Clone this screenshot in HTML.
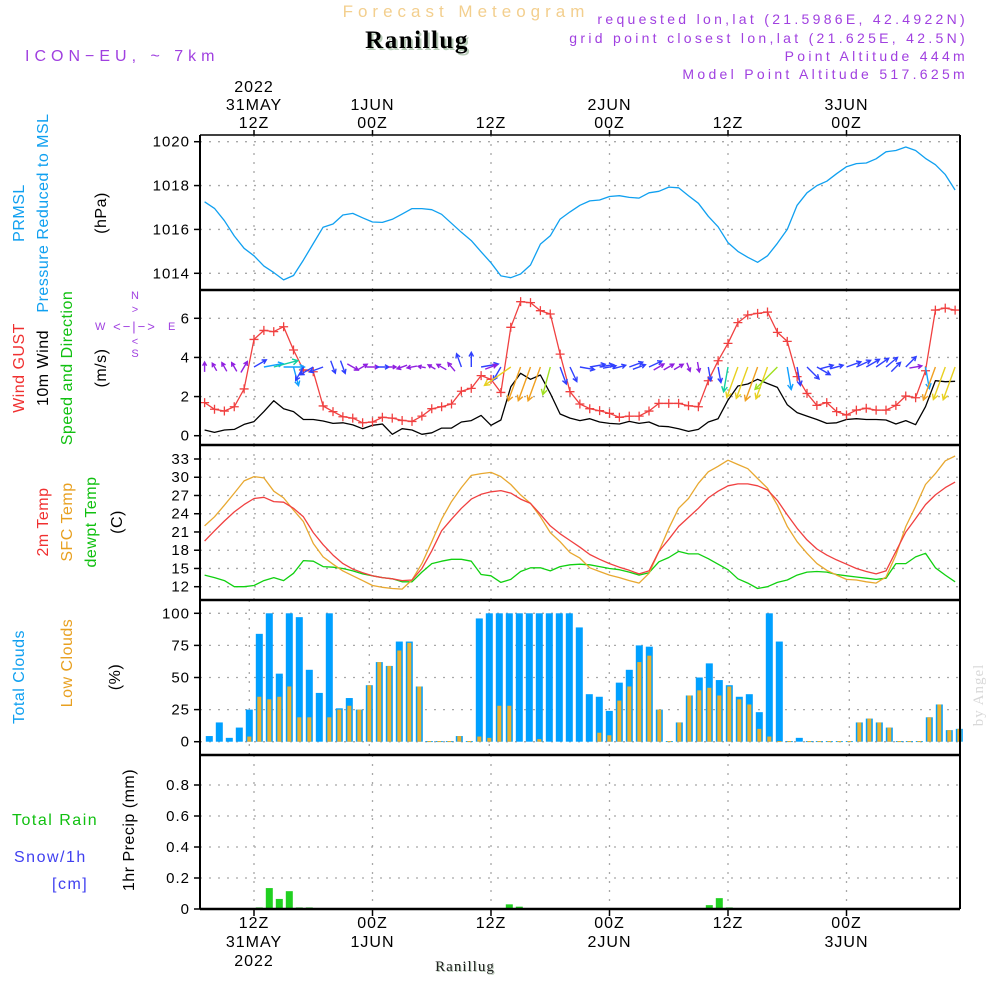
<!DOCTYPE html>
<html><head><meta charset="utf-8"><title>Forecast Meteogram Ranillug</title>
<style>
html,body{margin:0;padding:0;background:#fff;}
#wrap{position:relative;width:1000px;height:1000px;overflow:hidden;font-family:"Liberation Sans",sans-serif;}
svg{position:absolute;left:0;top:0;}
text{font-family:"Liberation Sans",sans-serif;}
text.serif{font-family:"Liberation Serif",serif;}
</style></head>
<body>
<div id="wrap">
<svg id="chart" width="1000" height="1000" viewBox="0 0 1000 1000">
  <text x="466" y="17" text-anchor="middle" font-size="17" fill="#f3cf8e" letter-spacing="5">Forecast Meteogram</text>
  <text class="serif" x="419" y="50" text-anchor="middle" font-size="25" font-weight="bold" fill="#b8ccb8" letter-spacing="1.5">Ranillug</text>
  <text class="serif" x="417" y="48" text-anchor="middle" font-size="25" font-weight="bold" fill="#000" letter-spacing="1.5">Ranillug</text>
  <text x="25" y="61" font-size="16" fill="#a040e0" letter-spacing="5">ICON−EU, ~ 7km</text>
  <g font-size="14" fill="#a040e0" text-anchor="end" letter-spacing="3.3">
    <text x="968" y="24">requested lon,lat (21.5986E, 42.4922N)</text>
    <text x="968" y="43">grid point closest lon,lat (21.625E, 42.5N)</text>
    <text x="968" y="61">Point Altitude 444m</text>
    <text x="968" y="79">Model Point Altitude 517.625m</text>
  </g>
  <g font-size="16" letter-spacing="0.5">
    <text transform="translate(24,213) rotate(-90)" text-anchor="middle" fill="#10a0f0">PRMSL</text>
    <text transform="translate(48,213) rotate(-90)" text-anchor="middle" fill="#10a0f0">Pressure Reduced to MSL</text>
    <text transform="translate(106,213) rotate(-90)" text-anchor="middle" fill="#000">(hPa)</text>
    <text transform="translate(24,368) rotate(-90)" text-anchor="middle" fill="#f03030">Wind GUST</text>
    <text transform="translate(48,368) rotate(-90)" text-anchor="middle" fill="#000">10m Wind</text>
    <text transform="translate(72,368) rotate(-90)" text-anchor="middle" fill="#10c010">Speed and Direction</text>
    <text transform="translate(106,368) rotate(-90)" text-anchor="middle" fill="#000">(m/s)</text>
    <text transform="translate(48,522) rotate(-90)" text-anchor="middle" fill="#f03030">2m Temp</text>
    <text transform="translate(72,522) rotate(-90)" text-anchor="middle" fill="#e8a020">SFC Temp</text>
    <text transform="translate(96,522) rotate(-90)" text-anchor="middle" fill="#10c010">dewpt Temp</text>
    <text transform="translate(122,522) rotate(-90)" text-anchor="middle" fill="#000">(C)</text>
    <text transform="translate(24,677) rotate(-90)" text-anchor="middle" fill="#10a0f0">Total Clouds</text>
    <text transform="translate(72,663) rotate(-90)" text-anchor="middle" fill="#e8a020">Low Clouds</text>
    <text transform="translate(120,677) rotate(-90)" text-anchor="middle" fill="#000">(%)</text>
    <text transform="translate(134,830) rotate(-90)" text-anchor="middle" fill="#000">1hr Precip (mm)</text>
    <text x="12" y="825" fill="#10c010" letter-spacing="1.5">Total  Rain</text>
    <text x="14" y="862" fill="#4040f0" letter-spacing="1.5">Snow/1h</text>
    <text x="52" y="889" fill="#4040f0" letter-spacing="1.5">[cm]</text>
  </g>
  <g font-size="13" fill="#a040e0">
    <text x="135" y="299" text-anchor="middle" font-size="11">N</text>
    <text x="135" y="313" text-anchor="middle" font-size="11">&gt;</text>
    <text x="135" y="331" text-anchor="middle" letter-spacing="2">&lt;−|−&gt;</text>
    <text x="95" y="330" font-size="11">W</text>
    <text x="168" y="330" font-size="11">E</text>
    <text x="135" y="345" text-anchor="middle" font-size="11">&lt;</text>
    <text x="135" y="357" text-anchor="middle" font-size="11">S</text>
  </g>
  <text class="serif" transform="translate(983,695) rotate(-90)" text-anchor="middle" font-size="15" fill="#d8d8d8" letter-spacing="1">by Angel</text>
  <text class="serif" x="466" y="972" text-anchor="middle" font-size="15" fill="#b8ccb8" letter-spacing="1">Ranillug</text>
  <text class="serif" x="465" y="971" text-anchor="middle" font-size="15" fill="#222" letter-spacing="1">Ranillug</text>
  <g id="plot"></g>
</svg>
</div>
<script>
const hourStart = 7;
const pressure = [1017.26,1016.96,1016.4,1015.7,1015.14,1014.8,1014.33,1014.03,1013.7,1013.9,1014.6,1015.36,1016.1,1016.25,1016.66,1016.73,1016.53,1016.34,1016.32,1016.46,1016.7,1016.95,1016.95,1016.9,1016.69,1016.28,1015.87,1015.49,1014.98,1014.48,1013.88,1013.8,1013.97,1014.38,1015.33,1015.71,1016.47,1016.8,1017.1,1017.3,1017.34,1017.5,1017.54,1017.46,1017.43,1017.67,1017.74,1017.93,1017.9,1017.54,1017.19,1016.6,1016.12,1015.4,1015.0,1014.73,1014.5,1014.8,1015.37,1016.0,1017.1,1017.67,1018.0,1018.2,1018.54,1018.86,1019.0,1019.03,1019.22,1019.54,1019.6,1019.76,1019.6,1019.24,1018.95,1018.5,1017.8];
const gust = [1.69,1.35,1.26,1.48,2.39,4.92,5.38,5.32,5.57,4.38,3.36,3.27,1.52,1.23,0.97,0.9,0.66,0.7,0.94,0.9,0.78,0.73,1.0,1.38,1.48,1.62,2.27,2.42,3.07,2.88,2.21,5.54,6.85,6.8,6.39,6.22,4.17,2.25,1.62,1.38,1.28,1.14,0.94,1.0,1.0,1.26,1.65,1.65,1.65,1.53,1.48,2.81,3.83,4.72,5.78,6.17,6.25,6.32,5.28,4.82,3.02,2.16,1.55,1.69,1.23,1.06,1.31,1.4,1.31,1.31,1.55,2.03,1.94,3.32,6.42,6.52,6.42];
const wind10 = [0.29,0.17,0.29,0.32,0.58,0.72,1.23,1.79,1.38,1.23,0.83,0.83,0.75,0.63,0.66,0.55,0.36,0.53,0.6,0.07,0.36,0.29,0.07,0.15,0.39,0.39,0.7,0.77,1.04,0.53,0.8,2.5,3.19,2.88,3.1,2.16,1.11,0.9,0.77,0.87,0.7,0.63,0.6,0.73,0.63,0.7,0.49,0.46,0.36,0.22,0.32,0.7,0.87,1.82,2.54,2.64,2.88,2.67,2.47,1.58,1.18,1.0,0.83,0.63,0.66,0.83,0.87,0.83,0.83,0.8,0.6,0.77,0.56,1.48,2.81,2.76,2.78];
const windDir = [0,330,330,330,30,60,80,75,90,165,210,240,250,160,160,120,60,90,90,90,250,260,280,300,300,320,340,0,80,70,210,235,200,200,200,195,160,155,100,80,80,80,75,70,70,65,60,60,60,160,170,170,170,190,200,200,200,200,225,170,170,135,120,75,75,70,65,60,55,50,45,45,80,170,200,200,200];
const temp2m = [19.5,21.2,22.8,24.3,25.5,26.5,26.7,26.0,25.9,24.9,23.5,20.9,18.9,17.2,15.8,14.9,14.3,13.8,13.5,13.3,13.0,13.1,15.0,17.9,21.2,23.1,24.9,26.4,27.2,27.6,27.8,27.4,26.4,25.7,23.9,22.0,20.7,19.6,18.5,17.3,16.5,15.8,15.2,14.7,14.1,14.6,17.8,19.8,21.9,23.4,24.9,26.6,27.7,28.6,28.9,28.9,28.6,27.9,26.2,23.8,21.6,19.7,18.2,17.2,16.4,15.7,15.0,14.5,14.1,14.6,17.8,21.0,23.2,25.5,27.1,28.3,29.2];
const tempSfc = [22.0,23.5,25.4,27.4,29.4,30.1,29.9,27.7,26.6,24.6,22.7,19.1,16.9,15.7,14.6,13.8,13.0,12.2,11.9,11.7,11.6,13.1,15.8,19.4,23.1,26.0,28.3,30.3,30.6,30.8,30.1,28.8,27.1,25.7,23.5,20.9,19.4,17.6,16.7,15.1,14.5,13.9,13.5,13.0,12.6,14.2,17.8,21.6,24.9,26.5,29.0,30.9,31.8,32.8,32.1,31.4,29.8,28.2,25.4,21.9,19.4,17.5,15.8,14.7,13.9,13.2,13.1,12.8,12.6,13.6,17.2,21.9,25.2,28.8,30.6,32.7,33.5];
const dewpt = [13.9,13.5,13.0,12.0,12.0,12.2,13.0,13.5,13.0,14.2,16.3,16.2,15.3,15.2,15.0,14.6,14.1,13.8,13.5,13.3,12.8,12.8,14.4,15.8,16.2,16.5,16.5,16.2,14.0,13.8,12.7,13.2,14.5,15.1,15.1,14.6,15.3,15.6,15.7,15.6,15.3,15.0,14.8,14.4,13.9,14.3,16.1,16.8,17.8,17.4,17.4,16.6,15.7,14.8,13.3,12.6,11.7,12.0,12.7,13.1,13.9,14.4,14.5,14.4,14.0,13.8,13.6,13.4,13.2,13.4,15.8,15.8,16.9,17.5,15.1,13.9,12.8];
const totalClouds = [4.4,15,3,11,25,84,100,53,100,97,56,38,100,26,34,25,44,62,59,78,78,43,0.5,0.5,0.5,4.4,0.5,96,100,100,100,100,100,100,100,100,100,89,37,35,24,46,56,75,74,25,0.5,15,36,50,61,48,44,35,37,23,100,78,0.5,3,0.5,0.5,0.5,0.5,0.5,15,18,15,11,0.5,0.5,0.5,19,29,9,10];
const lowClouds = [0,0,0,0,4,35,33,35,43,19,19,0,19,25,28,25,44,62,59,71,77,43,0.5,0.5,0.5,4.4,0.5,4,3,28,28,0,0,2,0,0,0,0,0,7,5,32,43,62,67,25,0.5,15,36,40,42,36,43,33,29,10,4,0.5,0.5,0,0.5,0.5,0.5,0.5,0.5,15,18,15,11,0.5,0.5,0.5,19,29,9,10];
const precip = [0,0,0,0,0,0.01,0.135,0.065,0.115,0.01,0.01,0,0,0,0,0,0,0,0,0,0,0,0,0,0,0,0,0,0,0,0.03,0.015,0,0,0,0,0,0,0,0,0,0,0,0,0,0,0,0,0,0,0.025,0.07,0.01,0,0,0,0,0,0,0,0,0,0,0,0,0,0,0,0,0,0,0,0,0,0,0];
const pressureTicks = [1014,1016,1018,1020];
const windTicks = [0,2,4,6];
const tempTicks = [12,15,18,21,24,27,30,33];
const cloudTicks = [0,25,50,75,100];
const precipTicks = [0,0.2,0.4,0.6,0.8];
const timeTicksTop = [[12,"2022","31MAY","12Z"],[24,"","1JUN","00Z"],[36,"","","12Z"],[48,"","2JUN","00Z"],[60,"","","12Z"],[72,"","3JUN","00Z"]];
const timeTicksBottom = [[12,"12Z","31MAY","2022"],[24,"00Z","1JUN",""],[36,"12Z","",""],[48,"00Z","2JUN",""],[60,"12Z","",""],[72,"00Z","3JUN",""]];

const NS = "http://www.w3.org/2000/svg";
const plot = document.getElementById("plot");
const X0 = 200, X1 = 960;
const xH = h => 254 + (h - 12) * 9.875;
const xBar = i => 209.3 + i * 10;
const lin = (v0, y0, v1, y1) => v => y0 + (v - v0) * (y1 - y0) / (v1 - v0);
const yP = lin(1014, 273.3, 1020, 141.7);
const yW = lin(0, 435.7, 6, 318.3);
const yT = lin(12, 586.7, 33, 459);
const yC = lin(0, 741.7, 100, 613.3);
const yR = lin(0, 909, 0.8, 785);
const panels = [[135,290],[290,445],[445,600],[600,755],[755,909]];

function mk(tag, attrs, parent) {
  const el = document.createElementNS(NS, tag);
  for (const k in attrs) el.setAttribute(k, attrs[k]);
  (parent || plot).appendChild(el);
  return el;
}
function txt(x, y, s, size, anchor, name, fill) {
  const t = mk("text", {x: x, y: y, "font-size": size, "text-anchor": anchor, fill: fill || "#000", "letter-spacing": "1"});
  t.textContent = s;
  
  
  return t;
}

const gridG = mk("g", {stroke: "#a8a8a8", "stroke-width": 1.3, "stroke-dasharray": "2,7"});


function hgrid(ys) { ys.forEach(y => mk("line", {x1: X0, x2: X1, y1: y, y2: y}, gridG)); }
hgrid(pressureTicks.map(yP)); hgrid(windTicks.map(yW)); hgrid(tempTicks.map(yT));
hgrid(cloudTicks.map(yC)); hgrid(precipTicks.map(yR));
[0,1,2,4].forEach(p => timeTicksTop.forEach(t => mk("line", {x1: xH(t[0]), x2: xH(t[0]), y1: panels[p][0], y2: panels[p][1]}, gridG)));
[0,1,2,3,4,5].forEach(k => mk("line", {x1: xBar(4 + 12*k), x2: xBar(4 + 12*k), y1: 600, y2: 755}, gridG));

function yLabels(ticks, sc, name, fmt) {
  ticks.forEach(v => {
    txt(190, sc(v) + 5, fmt ? fmt(v) : String(v), 15, "end", name);
    const tk = mk("line", {x1: 194, x2: 200, y1: sc(v), y2: sc(v), stroke: "#000", "stroke-width": 1.5});
    
    
  });
}
yLabels(pressureTicks, yP, "pressure-tick-label");
yLabels(windTicks, yW, "wind-tick-label");
yLabels(tempTicks, yT, "temp-tick-label");
yLabels(cloudTicks, yC, "cloud-tick-label");
yLabels(precipTicks, yR, "precip-tick-label", v => v === 0 ? "0" : v.toFixed(1));

timeTicksTop.forEach(t => {
  const x = xH(t[0]);
  if (t[1]) txt(x, 92, t[1], 16, "middle", "top-year-label");
  if (t[2]) txt(x, 110, t[2], 16, "middle", "top-date-label");
  txt(x, 128, t[3], 16, "middle", "top-hour-label");
  const tk = mk("line", {x1: x, x2: x, y1: 130, y2: 135, stroke: "#000", "stroke-width": 1.5});
  
  
});
timeTicksBottom.forEach(t => {
  const x = xH(t[0]);
  txt(x, 928, t[1], 16, "middle", "bottom-hour-label");
  if (t[2]) txt(x, 947, t[2], 16, "middle", "bottom-date-label");
  if (t[3]) txt(x, 966, t[3], 16, "middle", "bottom-year-label");
  const tk = mk("line", {x1: x, x2: x, y1: 909, y2: 916, stroke: "#000", "stroke-width": 1.5});
  
  
});

function series(vals, sc, color, name, w) {
  const pts = vals.map((v, i) => xH(hourStart + i).toFixed(1) + "," + sc(v).toFixed(1)).join(" ");
  const pl = mk("polyline", {points: pts, fill: "none", stroke: color, "stroke-width": w || 1.3, "stroke-linejoin": "round"});
  
  
  return pl;
}
series(pressure, yP, "#10a0f0", "pressure-line");
series(wind10, yW, "#000", "wind-speed-line");
series(gust, yW, "#f04040", "wind-gust-line");
gust.forEach((v, i) => {
  const x = xH(hourStart + i), y = yW(v);
  const m = mk("path", {d: `M${x-4.5},${y}H${x+4.5}M${x},${y-4.5}V${y+4.5}`, stroke: "#f04040", "stroke-width": 1.3});
  
  
});
function arrowColor(s) {
  if (s < 0.6) return "#9020e0";
  if (s < 1.2) return "#3040ff";
  if (s < 1.6) return "#10a0ff";
  if (s < 2.0) return "#10d0a0";
  if (s < 2.5) return "#a0e020";
  if (s < 2.8) return "#e8d020";
  return "#f0a020";
}
windDir.forEach((d, i) => {
  const s = wind10[i];
  const L = Math.min(36, 7 + 10 * s);
  const a = d * Math.PI / 180;
  const x0 = xH(hourStart + i) - (L < 14 ? Math.sin(a) * L / 2 : 0);
  const y0 = 367 + (L < 14 ? Math.cos(a) * L / 2 : 0);
  const x1 = x0 + Math.sin(a) * L, y1 = y0 - Math.cos(a) * L;
  const hl = Math.min(6, 3 + L * 0.12);
  const b1 = a + Math.PI - 0.5, b2 = a + Math.PI + 0.5;
  const d2 = `M${x0.toFixed(1)},${y0.toFixed(1)}L${x1.toFixed(1)},${y1.toFixed(1)}M${(x1+Math.sin(b1)*hl).toFixed(1)},${(y1-Math.cos(b1)*hl).toFixed(1)}L${x1.toFixed(1)},${y1.toFixed(1)}L${(x1+Math.sin(b2)*hl).toFixed(1)},${(y1-Math.cos(b2)*hl).toFixed(1)}`;
  const ar = mk("path", {d: d2, stroke: arrowColor(s), "stroke-width": 1.4, fill: "none"});
  
  
});
series(dewpt, yT, "#10d010", "dewpt-line");
series(tempSfc, yT, "#e8a830", "sfc-temp-line");
series(temp2m, yT, "#f04040", "temp-2m-line");

totalClouds.forEach((v, i) => {
  const y = yC(v);
  const r = mk("rect", {x: xBar(i) - 3.5, y: y, width: 7, height: Math.max(1, yC(0) - y), fill: "#00a0ff"});
  
  
});
lowClouds.forEach((v, i) => {
  if (v <= 0) return;
  const y = yC(v);
  const r = mk("rect", {x: xBar(i) - 2, y: y, width: 4, height: Math.max(1, yC(0) - y), fill: "#e8b030"});
  
  
});
precip.forEach((v, i) => {
  if (v <= 0) return;
  const y = yR(v);
  const r = mk("rect", {x: xBar(i) - 3.5, y: y, width: 7, height: Math.max(1.5, yR(0) - y), fill: "#20d020"});
  
  
});

const frame = mk("g", {stroke: "#000", fill: "none"});


mk("line", {x1: X0, x2: X1, y1: 135, y2: 135, "stroke-width": 1.5}, frame);
[290,445,600,755].forEach(y => mk("line", {x1: X0, x2: X1, y1: y, y2: y, "stroke-width": 2.5}, frame));
mk("line", {x1: X0, x2: X1, y1: 909, y2: 909, "stroke-width": 2.5}, frame);
mk("line", {x1: X0, x2: X0, y1: 135, y2: 909, "stroke-width": 2}, frame);
mk("line", {x1: X1, x2: X1, y1: 135, y2: 909, "stroke-width": 2}, frame);
</script>
</body></html>
